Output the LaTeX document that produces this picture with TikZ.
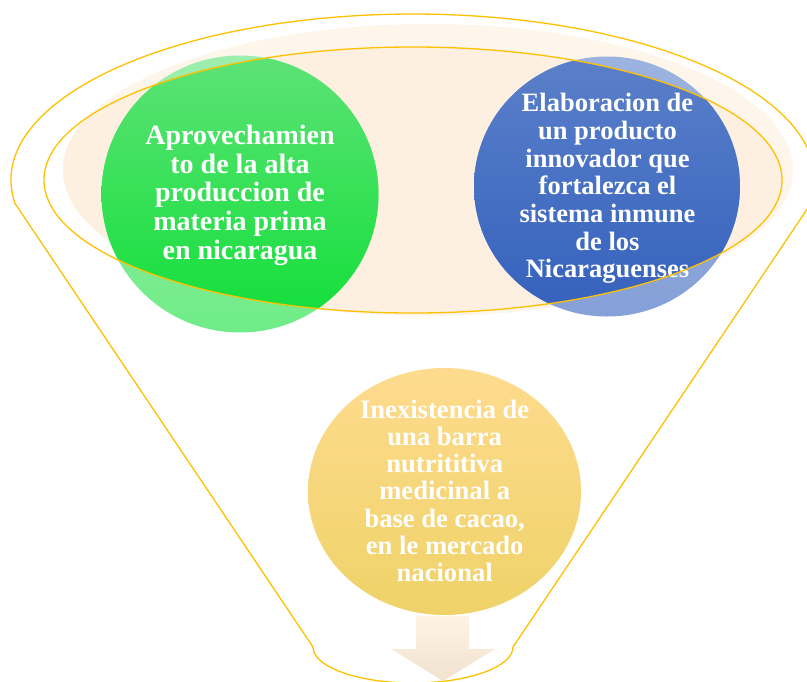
\documentclass[tikz,border=0pt]{standalone}
\usepackage{fontspec}
\setmainfont{Liberation Serif}
\definecolor{funnelgold}{HTML}{FFC000}
\definecolor{rimpeach}{HTML}{FEF5EB}
\definecolor{bowlpeach}{HTML}{FDF0E1}
\definecolor{greentop}{HTML}{5DE276}
\definecolor{greenbot}{HTML}{10DF38}
\definecolor{bluetop}{HTML}{5B80CA}
\definecolor{bluebot}{HTML}{3461BD}
\definecolor{goldtop}{HTML}{FEDB8E}
\definecolor{goldmid}{HTML}{FCDA6C}
\definecolor{goldbot}{HTML}{EFD268}
\definecolor{arrowtop}{HTML}{FEF3E4}
\definecolor{arrowbot}{HTML}{F1E2CF}
\newcommand\linesof[1]{\begin{tabular}[t]{@{}c@{}}#1\end{tabular}}
\begin{document}
\begin{tikzpicture}[x=1pt,y=-1pt,
  funnelline/.style={draw=funnelgold, line width=1.3pt, line join=round},
  cirtext/.style={text=white, inner sep=0pt, anchor=base},
]
\useasboundingbox (0,0) rectangle (807,681);

% centres of the funnel parts
\coordinate (rim) at (413,180);
\coordinate (glow) at (428,170);
\coordinate (gc) at (240,194);
\coordinate (bc) at (607,186.5);
\coordinate (yc) at (444.5,491.5);

% soft peach glow of the funnel mouth
\fill[rimpeach] (glow) ellipse[x radius=365, y radius=146];
\begin{scope}
  \clip (glow) ellipse[x radius=365, y radius=146];
  \fill[bowlpeach] (rim) ellipse[x radius=369, y radius=133];
\end{scope}

% funnel outline
\draw[funnelline] (15,203.4)
  arc[start angle=171.9, end angle=368.1, x radius=402, y radius=166]
  -- (513,647)
  arc[start angle=0, end angle=180, x radius=100, y radius=36]
  -- cycle;

% circles: washed out outside the mouth, full colour inside
\shade[top color=greentop!60!white, bottom color=greenbot!60!white]
  (gc) circle[radius=138.5];
\shade[top color=bluetop!60!white, bottom color=bluebot!60!white]
  (bc) ellipse[x radius=133, y radius=130];
\begin{scope}
  \clip (rim) ellipse[x radius=369, y radius=133];
  \shade[top color=greentop, bottom color=greenbot] (gc) circle[radius=138.5];
  \shade[top color=bluetop, bottom color=bluebot]
    (bc) ellipse[x radius=133, y radius=130];
\end{scope}

% outflow arrow
\shade[top color=arrowtop, bottom color=arrowbot]
  (416,616) -- (469,616) -- (469,649) -- (495,649) -- (443,681)
  -- (391,649) -- (416,649) -- cycle;

% lower circle
\shade[top color=goldtop, middle color=goldmid, bottom color=goldbot]
  (yc) ellipse[x radius=136.5, y radius=123.5];

% texts
\node[cirtext, font={\fontsize{28}{28.75}\selectfont\bfseries}] (greentext)
  at (240,144.3) {\linesof{Aprovechamien\\to de la alta\\produccion de\\materia prima\\en nicaragua}};
\node[cirtext, font={\fontsize{26.5}{27.67}\selectfont\bfseries}] (bluetext)
  at (607.5,111.7) {\linesof{Elaboracion de\\un producto\\innovador que\\fortalezca el\\sistema inmune\\de los\\Nicaraguenses}};
\node[cirtext, font={\fontsize{26.6}{27.23}\selectfont\bfseries}] (yellowtext)
  at (444.7,418.3) {\linesof{Inexistencia de\\una barra\\nutrititiva\\medicinal a\\base de cacao,\\en le mercado\\nacional}};

% rim of the funnel mouth
\draw[funnelline] (rim) ellipse[x radius=369, y radius=133];
\end{tikzpicture}
\end{document}
